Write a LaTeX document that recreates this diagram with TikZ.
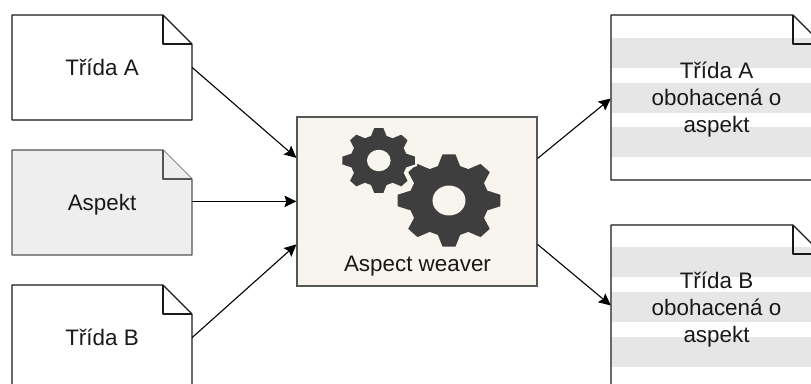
\documentclass[tikz,border=0pt]{standalone}
\usepackage{fontspec}
\setmainfont{Liberation Sans}
\usetikzlibrary{arrows.meta}

\definecolor{weaverfill}{HTML}{F7F5EE}
\definecolor{linegrey}{HTML}{555555}
\definecolor{aspektfill}{HTML}{EEEEEE}
\definecolor{stripegrey}{HTML}{E6E6E6}
\definecolor{geargrey}{HTML}{3E3E3E}

\tikzset{
  label text/.style={font=\fontsize{22.4}{27}\selectfont, text=black!90, align=center, inner sep=0pt, text depth=0pt},
  docline/.style={draw=black!90, line width=1.2pt, line join=round},
  aspektline/.style={draw=linegrey, fill=aspektfill, line width=1.2pt, line join=round},
  connector/.style={-{Stealth[length=12pt,width=11.5pt,inset=2pt]}, draw=black, line width=1.1pt},
}

% outline of a page with a folded corner, then its text as a node
\newcommand{\docpage}[7][docline]{
  \path[#1] (#3,#4) -- (#5-29,#4) -- (#5,#4+29) -- (#5,#6) -- (#3,#6) -- cycle;
  \path[#1] (#5-29,#4) -- (#5-29,#4+29) -- (#5,#4+29);
  \node[label text, minimum width=#5pt-#3pt, minimum height=#6pt-#4pt] (#2) at ({(#3+#5)/2},{(#4+#6)/2}) {#7};
}
% gear with eight teeth: centre x, centre y, outer radius, root radius, hole radius
% the pale edge cuts the small wheel free of the big one
\newcommand{\gearwheel}[5]{
  \path[fill=geargrey, draw=weaverfill, line width=2pt, even odd rule, shift={(#1,#2)}, yscale=0.9]
    (-17:#4) foreach \a in {0,45,...,315} {
      -- (\a-17:#4) -- (\a-8:#3) -- (\a+8:#3) -- (\a+17:#4)
    } -- cycle (0:#5) arc[start angle=0, end angle=360, radius=#5];
}

\begin{document}
\begin{tikzpicture}[x=1pt,y=-1pt]
\useasboundingbox (0,0) rectangle (811,383);
\clip (0,0) rectangle (811,383);

\docpage{tridaA}{12}{15}{192}{120}{Třída A}
\docpage[aspektline]{aspekt}{12}{150}{192}{255}{Aspekt}
\docpage{tridaB}{12}{285}{192}{390}{Třída B}

% stripes sit under the outlines of the enriched pages
\foreach \y in {38,83,127} \fill[stripegrey] (612,\y) rectangle (823,\y+30);
\foreach \y in {247,292,337} \fill[stripegrey] (612,\y) rectangle (823,\y+30);
\docpage{obohA}{611}{15}{822}{180}{Třída A\\obohacená o\\aspekt}
\docpage{obohB}{611}{225}{822}{390}{Třída B\\obohacená o\\aspekt}

\node[draw=linegrey, fill=weaverfill, line width=1.2pt, minimum width=240pt, minimum height=169pt, inner sep=0pt] (weaver) at (417,201.4) {};
\node[label text] (weavertext) at (417.5,263.5) {Aspect weaver};
\gearwheel{449}{200.5}{52.8}{41}{15.5}
\gearwheel{378.8}{160.5}{37.8}{29.5}{10.8}

\draw[connector] (tridaA.east) -- ([yshift=43.5pt]weaver.west);
\draw[connector] (aspekt.east |- weaver.west) -- (weaver.west);
\draw[connector] (tridaB.east) -- ([yshift=-43pt]weaver.west);
\draw[connector] ([yshift=43pt]weaver.east) -- ([yshift=-1pt]obohA.west);
\draw[connector] ([yshift=-43pt]weaver.east) -- ([yshift=2pt]obohB.west);
\end{tikzpicture}
\end{document}
